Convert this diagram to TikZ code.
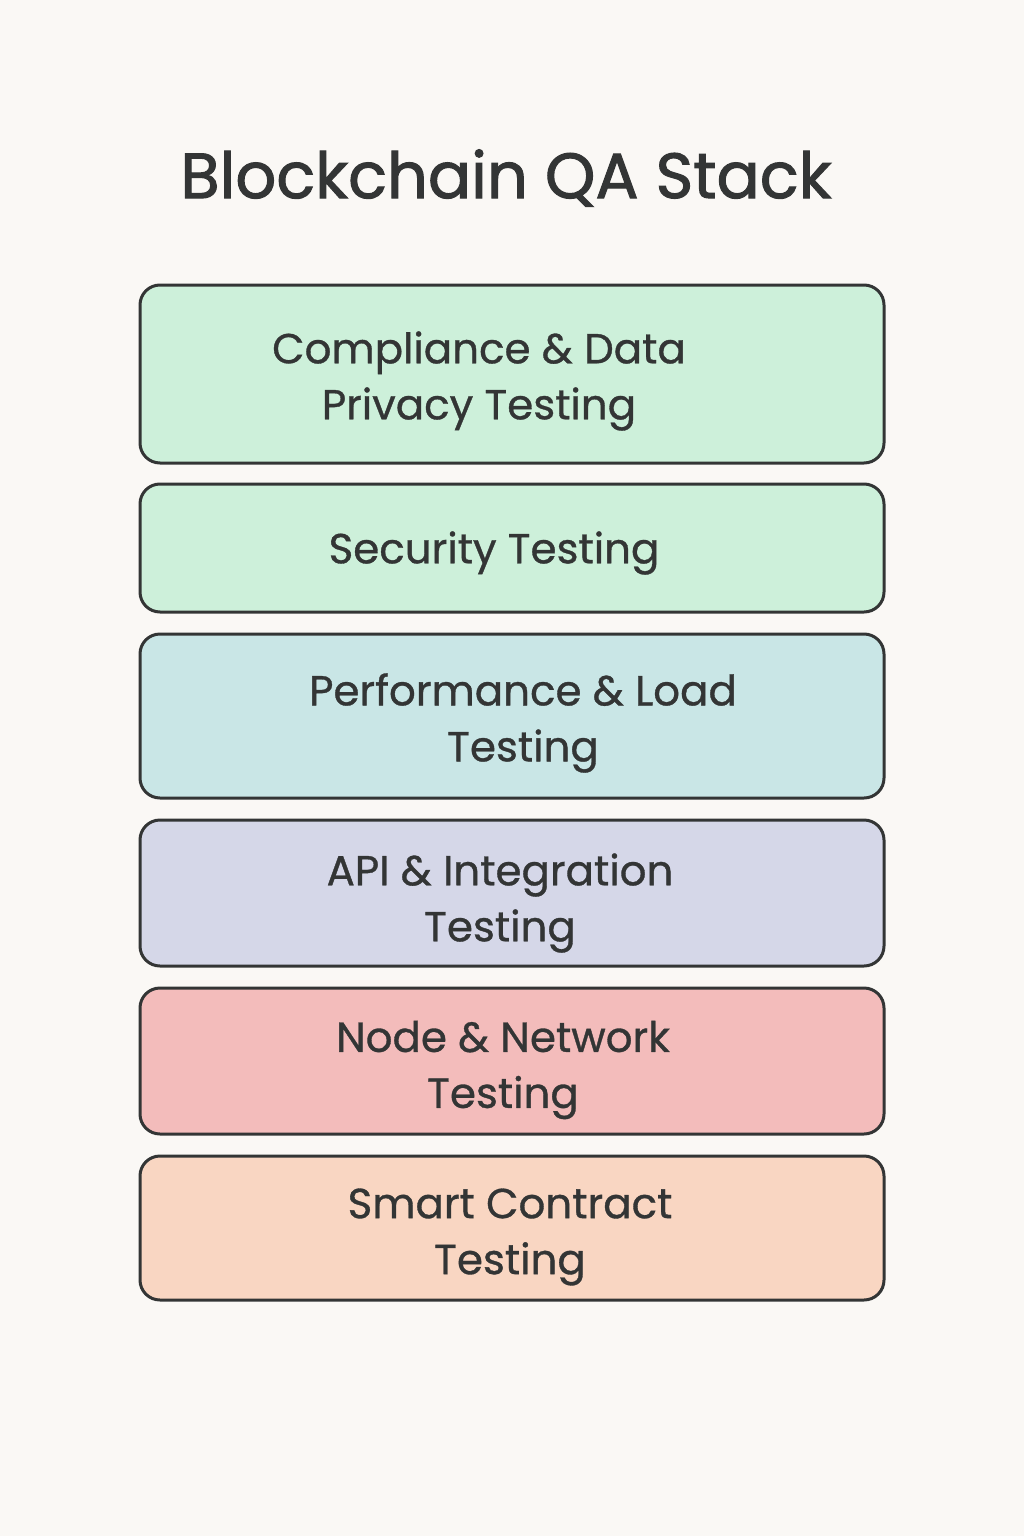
\documentclass[tikz,border=0pt]{standalone}
\usepackage{fontspec}
\setmainfont{Poppins}
\newfontfamily\medfont{Poppins}[FakeBold=0.8]
\newfontfamily\titlefont{Poppins}[FakeBold=1.6]
\definecolor{bg}{HTML}{FAF8F5}
\definecolor{ink}{HTML}{333535}
\definecolor{cA}{HTML}{CDF0DA}
\definecolor{cB}{HTML}{C9E6E6}
\definecolor{cC}{HTML}{D5D7E8}
\definecolor{cD}{HTML}{F3BCBB}
\definecolor{cE}{HTML}{F9D6C2}
\begin{document}
\begin{tikzpicture}[x=1pt,y=-1pt,
  layer/.style={draw=ink,line width=3pt,rounded corners=20pt},
  lbl/.style={text=ink,font=\medfont\fontsize{42}{56}\selectfont,align=center}]
\fill[bg] (0,0) rectangle (1024,1536);
\useasboundingbox (0,0) rectangle (1024,1536);
\node[text=ink,font=\titlefont\fontsize{64}{70}\selectfont] (title) at (506,178) {Blockchain QA Stack};
\draw[layer,fill=cA] (140,285) rectangle (884,463);
\node[lbl] (t1) at (479,381) {Compliance \& Data\\Privacy Testing};
\draw[layer,fill=cA] (140,484) rectangle (884,612);
\node[lbl] (t2) at (494,553) {Security Testing};
\draw[layer,fill=cB] (140,634) rectangle (884,798);
\node[lbl] (t3) at (523,723) {Performance \& Load\\Testing};
\draw[layer,fill=cC] (140,820) rectangle (884,966);
\node[lbl] (t4) at (500,903) {API \& Integration\\Testing};
\draw[layer,fill=cD] (140,988) rectangle (884,1134);
\node[lbl] (t5) at (503,1070) {Node \& Network\\Testing};
\draw[layer,fill=cE] (140,1156) rectangle (884,1300);
\node[lbl] (t6) at (510,1237) {Smart Contract\\Testing};
\end{tikzpicture}
\end{document}
